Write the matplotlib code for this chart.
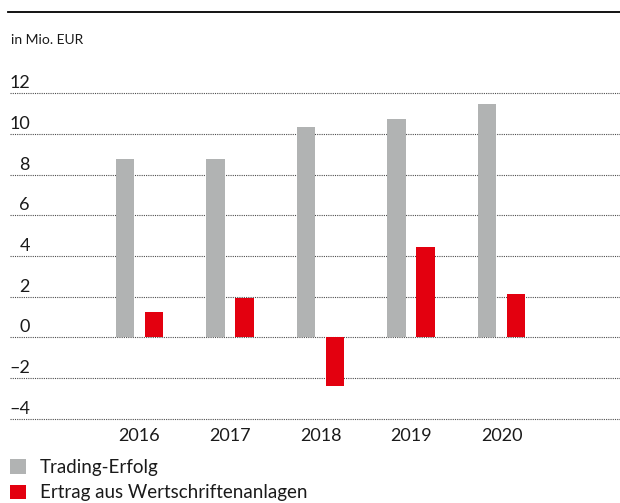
import matplotlib
matplotlib.use("Agg")
import matplotlib.pyplot as plt
import numpy as np

# data
YEARS   = ["2016", "2017", "2018", "2019", "2020"]
TRADING = [8.77, 8.77, 10.34, 10.74, 11.47]
ERTRAG  = [1.24, 1.93, -2.38, 4.44, 2.13]
Y_TICKS = [12, 10, 8, 6, 4, 2, 0, -2, -4]
UNIT    = "in Mio. EUR"
LABELS  = ["Trading-Erfolg", "Ertrag aus Wertschriftenanlagen"]

C_GRAY = "#b1b3b3"
C_RED  = "#e3000f"

plt.rcParams["font.family"] = ["Lato", "DejaVu Sans"]

W, H = 620, 503
fig = plt.figure(figsize=(W / 100, H / 100), dpi=100)

# axes placed in pixel geometry of the reference
y_lo, y_hi = -4.2, 12.2
px0 = 337.3           # pixel row of value 0
ppu = 20.33           # pixels per unit
top_px = px0 - ppu * y_hi
bot_px = px0 - ppu * y_lo
ax = fig.add_axes([10 / W, 1 - bot_px / H, 610 / W, (bot_px - top_px) / H])
ax.set_ylim(y_lo, y_hi)

gap = 90.5
x0 = 139.5
ax.set_xlim((10 - x0) / gap, (620 - x0) / gap)
ax.axis("off")

x = np.arange(len(YEARS))
bw = 0.2
off = 0.16
b1 = ax.bar(x - off, TRADING, bw, color=C_GRAY, zorder=2, label=LABELS[0])
b2 = ax.bar(x + off, ERTRAG, bw, color=C_RED, zorder=2, label=LABELS[1])

for t in Y_TICKS:
    ax.axhline(t, color="#4d4d4d", lw=0.8, ls=(0, (1, 1)), zorder=1)
    lab = str(t).replace("-", "\u2013")
    ax.annotate(lab, xy=(20 / 610, t), xycoords=("axes fraction", "data"),
                xytext=(0, 2), textcoords="offset pixels",
                ha="right", va="bottom", fontsize=13, color="#1a1a1a")

for i, yr in enumerate(YEARS):
    ax.text(i, -4.85, yr, ha="center", va="center", fontsize=13,
            color="#1a1a1a", clip_on=False)

# top rule and unit label
fig.add_artist(plt.Line2D([8 / W, 1], [1 - 12 / H, 1 - 12 / H],
                          color="black", lw=1.3))
fig.text(11 / W, 1 - 40 / H, UNIT, ha="left", va="center", fontsize=10,
         color="#1a1a1a")

fig.legend(handles=[b1, b2], loc="upper left",
           bbox_to_anchor=(10 / W, 1 - 459 / H), frameon=False,
           borderpad=0, borderaxespad=0, handlelength=0.85, handleheight=0.8,
           handletextpad=0.75, labelspacing=0.45, fontsize=13.5,
           labelcolor="#1a1a1a")

fig.savefig("out.png", dpi=100)
